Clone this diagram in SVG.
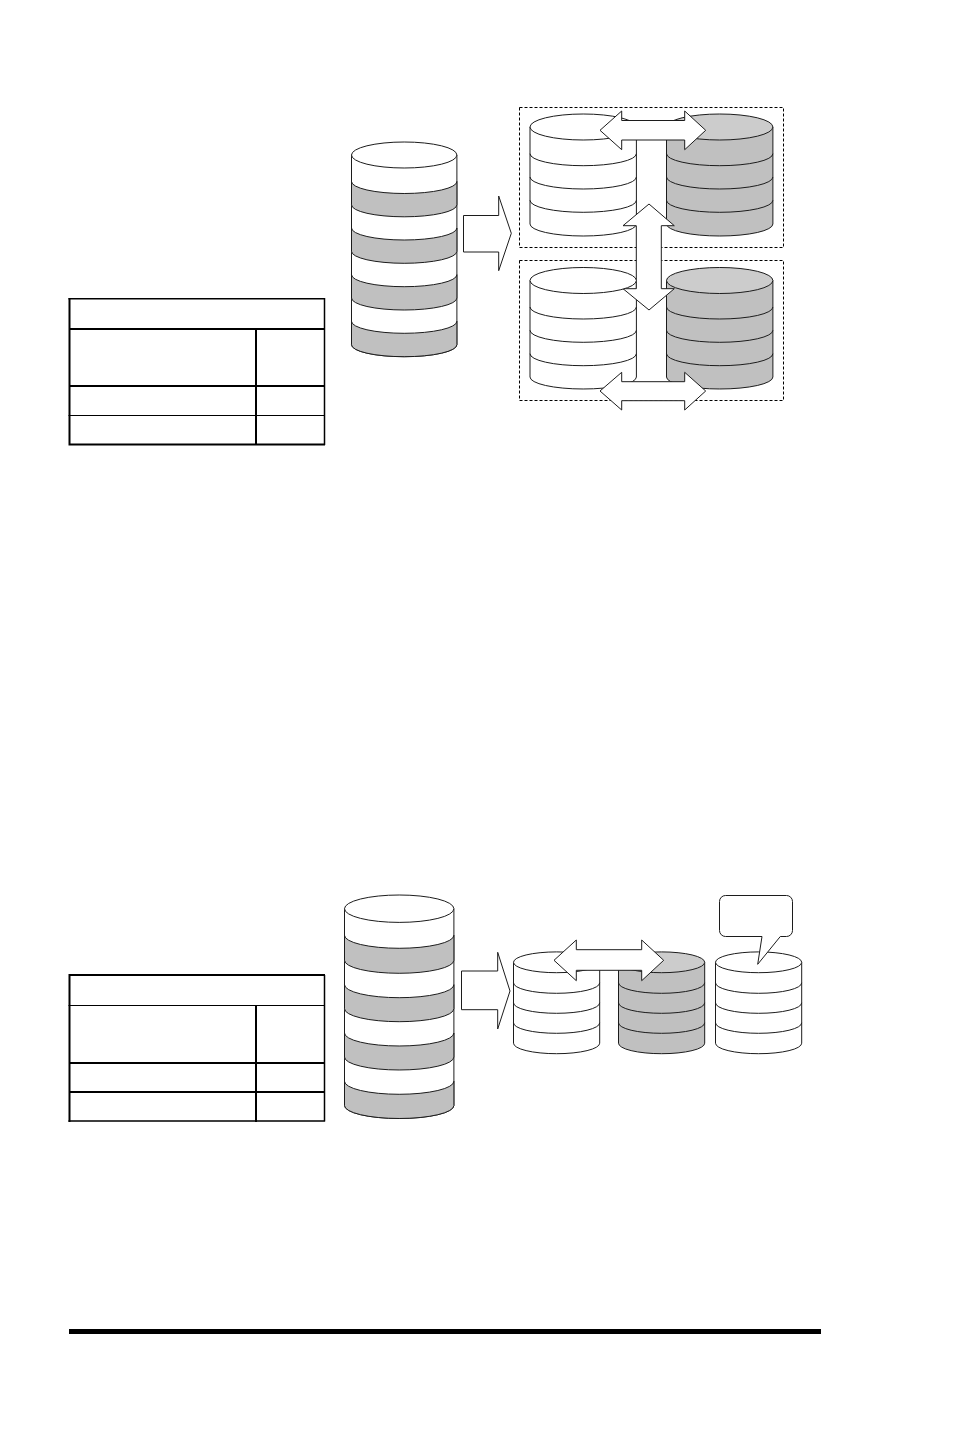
<svg xmlns="http://www.w3.org/2000/svg" width="954" height="1430" viewBox="0 0 954 1430">
<style>
.o{fill:#fff;stroke:#1c1c1c;stroke-width:1}
.g{fill:#c0c0c0;stroke:#1c1c1c;stroke-width:1}
.gt{fill:#cccccc;stroke:#1c1c1c;stroke-width:1}
.l{fill:none;stroke:#1c1c1c;stroke-width:1}
.dash{fill:none;stroke:#000;stroke-width:1;stroke-dasharray:3 2}
.t{stroke:#000;fill:none}
</style>
<rect width="954" height="1430" fill="#fff"/>
<g id="table-top">
<path class="t" stroke-width="1.5" d="M68.5 298.8H324.5V445"/>
<path class="t" stroke-width="2" d="M69.5 298V445M68.5 444.5H325M68.5 329H325M68.5 386H325M256 328V445"/>
<path class="t" stroke-width="1" d="M68.5 415.5H325"/>
</g>
<g id="table-bottom">
<path class="t" stroke-width="2" d="M68.5 975H325M69.5 974V1122M68.5 1063H325M68.5 1092H325M256 1005V1122"/>
<path class="t" stroke-width="1.5" d="M324.5 975V1121.5M68.5 1121H325"/>
<path class="t" stroke-width="1" d="M68.5 1005.5H325"/>
</g>
<g id="drive-source-top">
<path class="o" d="M351.5 155V344.7a52.7 12 0 0 0 105.4 0V155z"/>
<path class="g" d="M351.5 181.5a52.7 12 0 0 0 105.4 0V204.8a52.7 12 0 0 1-105.4 0z"/>
<path class="g" d="M351.5 228a52.7 12 0 0 0 105.4 0V251.3a52.7 12 0 0 1-105.4 0z"/>
<path class="g" d="M351.5 274.7a52.7 12 0 0 0 105.4 0V298a52.7 12 0 0 1-105.4 0z"/>
<path class="g" d="M351.5 321.3a52.7 12 0 0 0 105.4 0V344.7a52.7 12 0 0 1-105.4 0z"/>
<ellipse class="o" cx="404.2" cy="155" rx="52.7" ry="13"/>
</g>
<g id="group-frame-1"><rect class="dash" x="519.5" y="107.5" width="264" height="140"/></g>
<g id="group-frame-2"><rect class="dash" x="519.5" y="260.5" width="264" height="140"/></g>
<g id="drive-a">
<path class="o" d="M530 127V224a53.2 12 0 0 0 106.4 0V127z"/>
<path class="l" d="M530 153.7a53.2 12 0 0 0 106.4 0M530 177a53.2 12 0 0 0 106.4 0M530 200.3a53.2 12 0 0 0 106.4 0"/>
<ellipse class="o" cx="583.2" cy="127" rx="53.2" ry="13"/>
</g>
<g id="drive-b">
<path class="g" d="M666.5 127V224a53.2 12 0 0 0 106.4 0V127z"/>
<path class="l" d="M666.5 153.7a53.2 12 0 0 0 106.4 0M666.5 177a53.2 12 0 0 0 106.4 0M666.5 200.3a53.2 12 0 0 0 106.4 0"/>
<ellipse class="gt" cx="719.7" cy="127" rx="53.2" ry="13"/>
</g>
<g id="drive-c">
<path class="o" d="M530 280.5V377a53.2 12 0 0 0 106.4 0V280.5z"/>
<path class="l" d="M530 307a53.2 12 0 0 0 106.4 0M530 330.3a53.2 12 0 0 0 106.4 0M530 353.7a53.2 12 0 0 0 106.4 0"/>
</g>
<g id="drive-d">
<path class="g" d="M666.5 280.5V377a53.2 12 0 0 0 106.4 0V280.5z"/>
<path class="l" d="M666.5 307a53.2 12 0 0 0 106.4 0M666.5 330.3a53.2 12 0 0 0 106.4 0M666.5 353.7a53.2 12 0 0 0 106.4 0"/>
</g>
<g id="connectors">
<polygon class="o" points="463.5,215.5 498.7,215.5 498.7,196 511.3,233.3 498.7,270.7 498.7,252 463.5,252"/>
<polygon class="o" points="600,130.3 621.7,111 621.7,120.5 684.7,120.5 684.7,111 705.7,130.3 684.7,149.7 684.7,140 621.7,140 621.7,149.7"/>
<polygon class="o" points="649,204 674.3,225.7 661.3,225.7 661.3,288.7 674.3,288.7 649,310 623,288.7 636.3,288.7 636.3,225.7 623,225.7"/>
<polygon class="o" points="600,391 621.7,372.3 621.7,381.7 684.7,381.7 684.7,372.3 705.7,391 684.7,410 684.7,400.7 621.7,400.7 621.7,410"/>
<polygon class="o" points="461.5,971 497.7,971 497.7,952.3 510,991 497.7,1029 497.7,1009.7 461.5,1009.7"/>
</g>
<g id="drive-c-top"><ellipse class="o" cx="583.2" cy="280.5" rx="53.2" ry="13"/></g>
<g id="drive-d-top"><ellipse class="gt" cx="719.7" cy="280.5" rx="53.2" ry="13"/></g>
<g id="drive-source-bottom">
<path class="o" d="M344.5 908.7V1105.5a54.7 13 0 0 0 109.4 0V908.7z"/>
<path class="g" d="M344.5 935.3a54.7 13 0 0 0 109.4 0V960.3a54.7 13 0 0 1-109.4 0z"/>
<path class="g" d="M344.5 984.7a54.7 13 0 0 0 109.4 0V1008.7a54.7 13 0 0 1-109.4 0z"/>
<path class="g" d="M344.5 1033a54.7 13 0 0 0 109.4 0V1057a54.7 13 0 0 1-109.4 0z"/>
<path class="g" d="M344.5 1081.3a54.7 13 0 0 0 109.4 0V1105.5a54.7 13 0 0 1-109.4 0z"/>
<ellipse class="o" cx="399.2" cy="908.7" rx="54.7" ry="13.7"/>
</g>
<g id="drive-e">
<path class="o" d="M513.5 962.3V1043.2a43.1 10.5 0 0 0 86.2 0V962.3z"/>
<path class="l" d="M513.5 982.8a43.1 10.5 0 0 0 86.2 0M513.5 1002.8a43.1 10.5 0 0 0 86.2 0M513.5 1022.8a43.1 10.5 0 0 0 86.2 0"/>
<ellipse class="o" cx="556.6" cy="962.3" rx="43.1" ry="10.4"/>
</g>
<g id="drive-f">
<path class="g" d="M618.5 962.3V1043.2a43.1 10.5 0 0 0 86.2 0V962.3z"/>
<path class="l" d="M618.5 982.8a43.1 10.5 0 0 0 86.2 0M618.5 1002.8a43.1 10.5 0 0 0 86.2 0M618.5 1022.8a43.1 10.5 0 0 0 86.2 0"/>
<ellipse class="gt" cx="661.6" cy="962.3" rx="43.1" ry="10.4"/>
</g>
<g id="drive-spare">
<path class="o" d="M715.5 962.3V1043.2a43.1 10.5 0 0 0 86.2 0V962.3z"/>
<path class="l" d="M715.5 982.8a43.1 10.5 0 0 0 86.2 0M715.5 1002.8a43.1 10.5 0 0 0 86.2 0M715.5 1022.8a43.1 10.5 0 0 0 86.2 0"/>
<ellipse class="o" cx="758.6" cy="962.3" rx="43.1" ry="10.4"/>
</g>
<g id="arrow-mirror-bottom">
<polygon class="o" points="554,960.3 576.3,940 576.3,949.7 641.7,949.7 641.7,940 663.7,960.3 641.7,980.7 641.7,970.3 576.3,970.3 576.3,980.7"/>
</g>
<g id="callout">
<path class="o" d="M725.5 895.5H786.5a6 6 0 0 1 6 6V930.5a6 6 0 0 1-6 6H780.3L757.7 964.3 762 936.5H725.5a6 6 0 0 1-6-6V901.5a6 6 0 0 1 6-6z"/>
</g>
<g id="rule"><rect fill="#000" x="69" y="1329" width="752" height="5"/></g>
</svg>
